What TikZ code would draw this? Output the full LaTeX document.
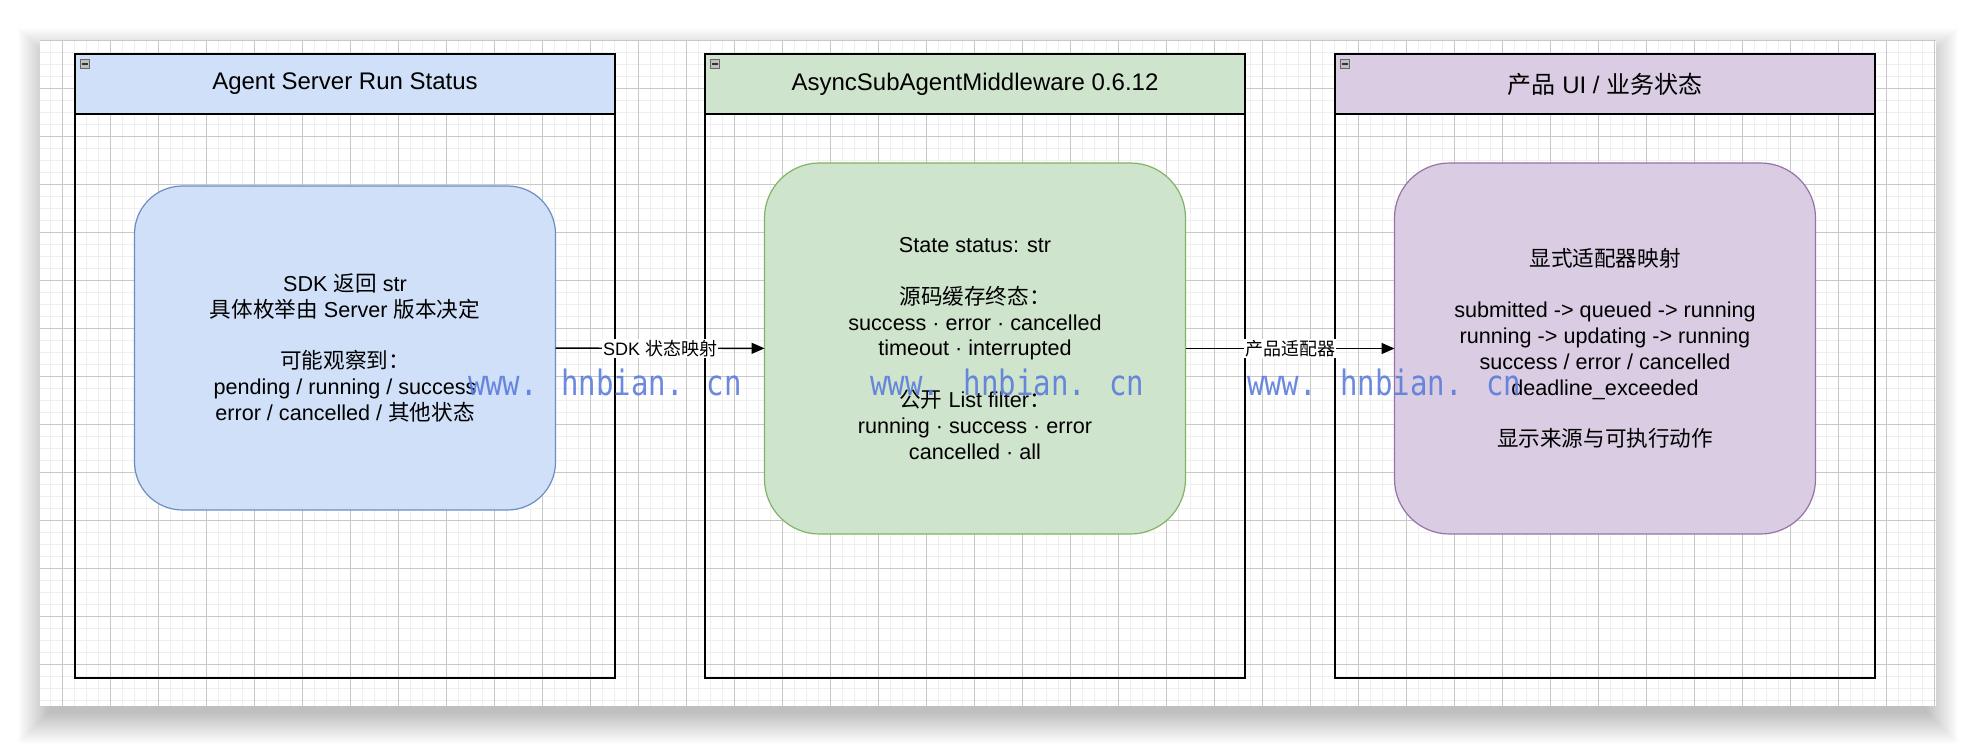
\documentclass[tikz,border=0pt]{standalone}
\usepackage{fontspec}
\usepackage{graphicx}
\setmainfont{Liberation Sans}
\newfontfamily\cjk{Noto Sans CJK SC}
\newfontfamily\markfont{DejaVu Sans Mono}
\usetikzlibrary{arrows.meta, positioning}

\definecolor{runfill}{HTML}{D0E0F8}
\definecolor{runline}{HTML}{6C8EBF}
\definecolor{mwfill}{HTML}{CFE4CC}
\definecolor{mwline}{HTML}{82B366}
\definecolor{uifill}{HTML}{DACCE2}
\definecolor{uiline}{HTML}{9673A6}
\definecolor{gridminor}{HTML}{EFEFEF}
\definecolor{gridmajor}{HTML}{C8C8C8}
\definecolor{markblue}{HTML}{5B7DDB}

\begin{document}
\begin{tikzpicture}[
    x=1pt, y=-1pt,
    minorline/.style={gridminor, line width=1.2pt},
    majorline/.style={gridmajor, line width=0.8pt},
    lanehead/.style={rectangle, draw=black, line width=1.5pt, outer sep=0pt, minimum width=540pt, minimum height=60pt, font=\fontsize{24pt}{28.8pt}\selectfont},
    lanebody/.style={rectangle, draw=black, line width=1.5pt, outer sep=0pt, minimum width=540pt, minimum height=564pt},
    foldbox/.style={rectangle, draw=gray!80!black, fill=gray!50, line width=0.8pt, minimum size=9pt, inner sep=0pt},
    statebox/.style={rectangle, line width=1.2pt, outer sep=0pt, minimum width=421pt, align=center, font=\fontsize{21.6pt}{25.8pt}\selectfont},
    flow/.style={-{Triangle[length=13pt, width=11pt]}, line width=1.4pt},
    edgelabel/.style={fill=white, inner sep=1pt, font=\fontsize{18pt}{21.6pt}\selectfont},
    watermark/.style={anchor=base, text=markblue, text opacity=0.9, font=\markfont\fontsize{35pt}{40pt}\selectfont}
]

\useasboundingbox (0,0) rectangle (1976,746);

% Page, shadow and grid
\fill[white] (0,0) rectangle (1976,746);
\foreach \s in {1,...,32}
    \fill[black, opacity=0.0075] (50-\s,60-\s) rectangle (1926+\s,712+\s);
\fill[white] (40,40) rectangle (1936,706);
\foreach \gx in {50.7,62.7,...,1935}
    \draw[minorline] (\gx,40) -- (\gx,706);
\foreach \gy in {52.7,64.7,...,705}
    \draw[minorline] (40,\gy) -- (1936,\gy);
\foreach \gx in {62.7,110.7,...,1935}
    \draw[majorline] (\gx,40) -- (\gx,706);
\foreach \gy in {40.7,88.7,...,705}
    \draw[majorline] (40,\gy) -- (1936,\gy);

% Swimlanes
\node[lanehead, fill=runfill] (runhead) at (345,84) {Agent Server Run Status};
\node[lanehead, fill=mwfill, right=90pt of runhead] (mwhead) {AsyncSubAgentMiddleware 0.6.12};
\node[lanehead, fill=uifill, right=90pt of mwhead] (uihead) {{\cjk 产品} UI / {\cjk 业务状态}};
\node[lanebody, below=0pt of runhead] (runlane) {};
\node[lanebody, below=0pt of mwhead] (mwlane) {};
\node[lanebody, below=0pt of uihead] (uilane) {};

% Fold icons
\node[foldbox, below right=5pt and 5pt of runhead.north west] (runfold) {};
\node[foldbox, below right=5pt and 5pt of mwhead.north west] (mwfold) {};
\node[foldbox, below right=5pt and 5pt of uihead.north west] (uifold) {};
\foreach \f in {runfold, mwfold, uifold}
    \draw[line width=1.3pt, black!80] ([xshift=2pt]\f.west) -- ([xshift=-2pt]\f.east);

% Status boxes
\node[statebox, draw=runline, fill=runfill, minimum height=324pt, rounded corners=48pt, below=72pt of runhead] (sdk) {
    SDK {\cjk 返回} str\\
    {\cjk 具体枚举由} Server {\cjk 版本决定}\\[25.8pt]
    {\cjk 可能观察到：}\\
    pending / running / success\\
    error / cancelled / {\cjk 其他状态}};
\node[statebox, draw=mwline, fill=mwfill, minimum height=371pt, rounded corners=55pt, below=49pt of mwhead] (mw) {
    State status: str\\[25.8pt]
    {\cjk 源码缓存终态：}\\
    success · error · cancelled\\
    timeout · interrupted\\[25.8pt]
    {\cjk 公开} List filter{\cjk ：}\\
    running · success · error\\
    cancelled · all};
\node[statebox, draw=uiline, fill=uifill, minimum height=371pt, rounded corners=55pt, below=49pt of uihead] (adapter) {
    {\cjk 显式适配器映射}\\[25.8pt]
    submitted -> queued -> running\\
    running -> updating -> running\\
    success / error / cancelled\\
    deadline\_exceeded\\[25.8pt]
    {\cjk 显示来源与可执行动作}};

% Flows
\draw[flow] (sdk) -- node[edgelabel] {SDK {\cjk 状态映射}} (mw);
\draw[flow] (mw) -- node[edgelabel] {{\cjk 产品适配器}} (adapter);

% Watermarks
\node[watermark] (mark1) at (605,395) {\scalebox{0.83}[1]{www. hnbian. cn}};
\node[watermark] (mark2) at (1007.5,395) {\scalebox{0.83}[1]{www. hnbian. cn}};
\node[watermark] (mark3) at (1384,395) {\scalebox{0.83}[1]{www. hnbian. cn}};

\end{tikzpicture}
\end{document}
